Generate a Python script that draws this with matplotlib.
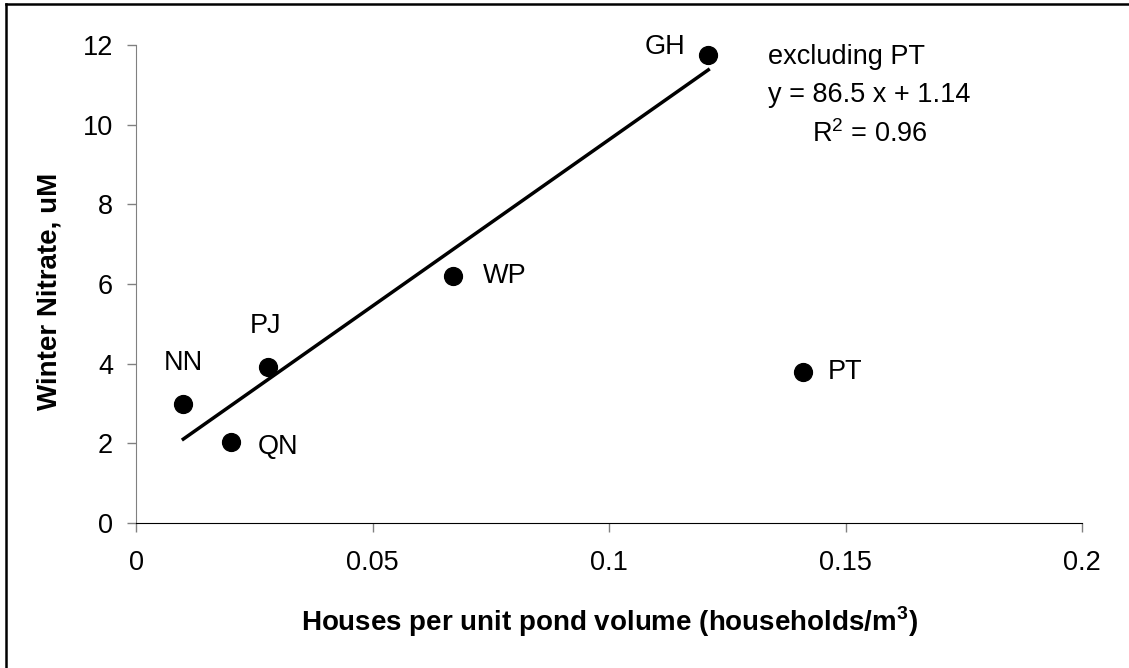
import numpy as np
import matplotlib
matplotlib.use("Agg")
from matplotlib import pyplot as plt
from matplotlib.lines import Line2D

# pond data (houses per unit volume vs winter nitrate)
ponds = ['NN', 'QN', 'PJ', 'WP', 'GH', 'PT']
houses = [0.010, 0.020, 0.028, 0.067, 0.121, 0.141]
nitrate = [3.0, 2.03, 3.92, 6.2, 11.75, 3.79]
x_ticks = [0, 0.05, 0.1, 0.15, 0.2]
x_tick_labels = ['0', '0.05', '0.1', '0.15', '0.2']
y_ticks = [0, 2, 4, 6, 8, 10, 12]

# label offsets in pixels (dx, dy) from each dot
offsets = {'NN': (0, 40), 'QN': (47, -5), 'PJ': (-3, 41),
           'WP': (52, 0), 'GH': (-43, 8), 'PT': (42, 0)}

plt.rcParams['font.family'] = ['Liberation Sans', 'DejaVu Sans']
plt.rcParams['mathtext.fontset'] = 'custom'
plt.rcParams['mathtext.rm'] = 'Liberation Sans'
plt.rcParams['mathtext.bf'] = 'Liberation Sans:bold'

W, H = 1129, 668
fs = 19.5
fig = plt.figure(figsize=(W / 100, H / 100), dpi=100)
ax = fig.add_axes([136 / W, 1 - 523 / H, 946 / W, 478 / H])

ax.scatter(houses, nitrate, s=165, color='black', zorder=3, clip_on=False)

# linear fit excluding PT
fit_x = np.array([h for h, p in zip(houses, ponds) if p != 'PT'])
fit_y = np.array([n for n, p in zip(nitrate, ponds) if p != 'PT'])
m, b = np.polyfit(fit_x, fit_y, 1)
line_x = np.array([fit_x.min(), fit_x.max()])
ax.plot(line_x, m * line_x + b, color='black', lw=2.5, zorder=2)

for name, hx, ny in zip(ponds, houses, nitrate):
    dx, dy = offsets[name]
    ax.annotate(name, (hx, ny), xytext=(dx, dy), textcoords='offset pixels',
                ha='center', va='center', fontsize=fs)

ax.set_xlim(0, 0.2)
ax.set_ylim(0, 12)
ax.set_xticks(x_ticks)
ax.set_xticklabels(x_tick_labels)
ax.set_yticks(y_ticks)
for s in ['top', 'right']:
    ax.spines[s].set_visible(False)
ax.spines['left'].set_color('#808080')
ax.spines['bottom'].set_color('black')
ax.tick_params(axis='y', length=6.5, width=1, color='#808080', pad=10, labelsize=fs)
ax.tick_params(axis='x', length=6.5, width=1, color='#808080', pad=13, labelsize=fs)

fig.text(609 / W, 1 - 622 / H, r'Houses per unit pond volume (households/m$^{\mathbf{3}}$)',
         ha='center', va='center', fontsize=20, fontweight='bold')
fig.text(50 / W, 1 - 291 / H, 'Winter Nitrate, uM', rotation=90,
         ha='center', va='center', fontsize=20, fontweight='bold')

fig.text(768 / W, 1 - 57 / H, 'excluding PT', ha='left', va='center', fontsize=fs)
fig.text(768 / W, 1 - 95 / H, 'y = 86.5 x + 1.14', ha='left', va='center', fontsize=fs)
fig.text(812 / W, 1 - 134 / H, r'R$^{\mathrm{2}}$ = 0.96', ha='left', va='center', fontsize=fs)

# outer frame (only left and top edges inside the picture)
fig.add_artist(Line2D([5.5 / W, 5.5 / W], [0, 1 - 3.5 / H], color='black', lw=1.8,
                      transform=fig.transFigure))
fig.add_artist(Line2D([5.5 / W, 1], [1 - 3.5 / H, 1 - 3.5 / H], color='black', lw=1.8,
                      transform=fig.transFigure))

fig.savefig('out.png', dpi=100)
